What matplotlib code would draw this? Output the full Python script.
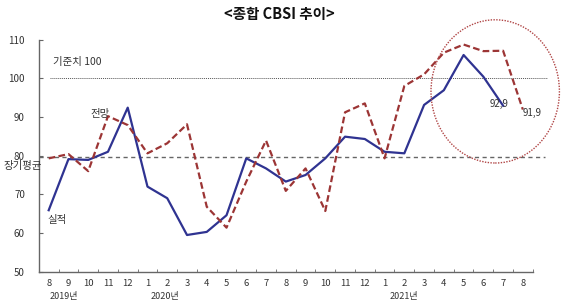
import matplotlib
matplotlib.use("Agg")
import matplotlib.pyplot as plt
from matplotlib.patches import Ellipse

plt.rcParams['font.family'] = ['Noto Sans CJK KR', 'DejaVu Sans']

months = ['8', '9', '10', '11', '12', '1', '2', '3', '4', '5', '6', '7', '8',
          '9', '10', '11', '12', '1', '2', '3', '4', '5', '6', '7', '8']
years = ['2019년', '2020년', '2021년']
year_pos = [0.75, 5.9, 18.0]

actual = [65.9, 79.1, 78.9, 81.0, 92.4, 72.0, 69.0, 59.5, 60.3, 64.6, 79.3, 76.7,
          73.3, 75.0, 79.3, 84.9, 84.3, 81.0, 80.6, 93.1, 96.9, 106.0, 100.4, 92.9]
forecast = [79.3, 80.4, 76.0, 90.2, 87.9, 80.6, 83.2, 88.1, 66.8, 61.4, 73.3, 83.9,
            70.9, 76.7, 65.7, 91.2, 93.5, 79.3, 98.0, 101.0, 106.6, 108.7, 107.0, 107.1, 91.9]
baseline = 100
long_avg = 79.6

fig = plt.figure(figsize=(5.71, 3.04), dpi=100)
ax = fig.add_axes([0.068, 0.106, 0.865, 0.764])

blue = '#2f3391'
red = '#9c3535'

ax.plot(range(len(actual)), actual, color=blue, lw=1.6, zorder=3)
ax.plot(range(len(forecast)), forecast, color=red, lw=1.6, ls=(0, (3, 1.5)), zorder=3)

ax.plot([0.05, 25.2], [baseline, baseline], color='#555555', lw=0.7,
        ls=(0, (1, 1)), clip_on=False, zorder=2)
ax.plot([-0.5, 25.1], [long_avg, long_avg], color='#666666', lw=1.0,
        ls=(0, (3, 2.5)), clip_on=False, zorder=2)

ell = Ellipse((22.6, 96.6), 6.5, 37, fill=False, edgecolor='#b04545',
              lw=1.0, ls=(0, (1, 1)), clip_on=False, zorder=4)
ax.add_patch(ell)

ax.set_xlim(-0.5, 24.5)
ax.set_ylim(50, 110)
ax.set_yticks([50, 60, 70, 80, 90, 100, 110])
ax.set_xticks(range(len(months)))
ax.set_xticklabels(months)
ax.set_xticks([i + 0.5 for i in range(-1, len(months))], minor=True)
ax.tick_params(axis='x', which='major', length=0, labelsize=6.8, labelcolor='#333333', pad=5)
ax.tick_params(axis='x', which='minor', direction='in', length=2.5, color='#666666')
ax.tick_params(axis='y', direction='in', length=3, color='#666666', labelsize=7,
               labelcolor='#333333', pad=10)

for s in ['top', 'right']:
    ax.spines[s].set_visible(False)
for s in ['left', 'bottom']:
    ax.spines[s].set_color('#666666')
    ax.spines[s].set_linewidth(1.0)

for y, p in zip(years, year_pos):
    ax.text(p, 43.6, y, ha='center', va='center', fontsize=6.5, color='#333333', clip_on=False)

ax.text(0.2, 104.2, '기준치 100', fontsize=7.5, color='#333333', ha='left', va='center')
ax.text(-2.3, 77.4, '장기평균', fontsize=7.5, color='#333333', ha='left', va='center', clip_on=False)
ax.text(2.1, 90.7, '전망', fontsize=7.5, color='#333333', ha='left', va='center')
ax.text(-0.05, 63.4, '실적', fontsize=7.5, color='#333333', ha='left', va='center')
ax.text(22.3, 93.4, '92,9', fontsize=7, color='#333333', ha='left', va='center')
ax.text(24.0, 91.0, '91,9', fontsize=7, color='#333333', ha='left', va='center', clip_on=False)

fig.text(0.49, 0.955, '<종합 CBSI 추이>', ha='center', va='center', fontsize=10.5,
         fontweight='bold', color='#111111')

fig.savefig('out.png', dpi=100)
